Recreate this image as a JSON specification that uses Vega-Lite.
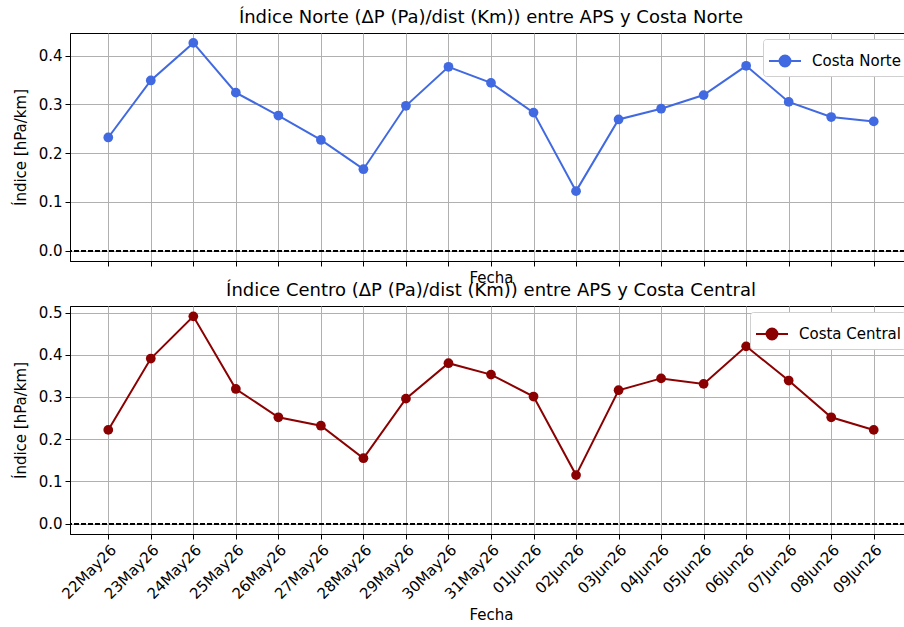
{
  "$schema": "https://vega.github.io/schema/vega-lite/v6.json",
  "background": "white",
  "padding": {"left": 12, "top": 8, "right": 0, "bottom": 4},
  "bounds": "flush",
  "config": {
    "font": "DejaVu Sans",
    "view": {"stroke": "black", "strokeWidth": 1},
    "axis": {
      "labelFontSize": 15, "titleFontSize": 15, "titleFontWeight": "normal",
      "labelColor": "black", "titleColor": "black",
      "domainColor": "black", "tickColor": "black", "tickSize": 5,
      "gridColor": "#b0b0b0", "gridWidth": 1, "gridOpacity": 1,
      "labelPadding": 3
    },
    "title": {"fontSize": 18, "fontWeight": "normal", "color": "black", "offset": 6},
    "legend": {"labelFontSize": 15, "labelColor": "black"}
  },
  "data": {"values": [
    {"fecha": "22May26", "serie": "Costa Norte", "indice": 0.232},
    {"fecha": "23May26", "serie": "Costa Norte", "indice": 0.349},
    {"fecha": "24May26", "serie": "Costa Norte", "indice": 0.426},
    {"fecha": "25May26", "serie": "Costa Norte", "indice": 0.324},
    {"fecha": "26May26", "serie": "Costa Norte", "indice": 0.277},
    {"fecha": "27May26", "serie": "Costa Norte", "indice": 0.227},
    {"fecha": "28May26", "serie": "Costa Norte", "indice": 0.167},
    {"fecha": "29May26", "serie": "Costa Norte", "indice": 0.297},
    {"fecha": "30May26", "serie": "Costa Norte", "indice": 0.377},
    {"fecha": "31May26", "serie": "Costa Norte", "indice": 0.344},
    {"fecha": "01Jun26", "serie": "Costa Norte", "indice": 0.283},
    {"fecha": "02Jun26", "serie": "Costa Norte", "indice": 0.122},
    {"fecha": "03Jun26", "serie": "Costa Norte", "indice": 0.269},
    {"fecha": "04Jun26", "serie": "Costa Norte", "indice": 0.291},
    {"fecha": "05Jun26", "serie": "Costa Norte", "indice": 0.319},
    {"fecha": "06Jun26", "serie": "Costa Norte", "indice": 0.379},
    {"fecha": "07Jun26", "serie": "Costa Norte", "indice": 0.305},
    {"fecha": "08Jun26", "serie": "Costa Norte", "indice": 0.274},
    {"fecha": "09Jun26", "serie": "Costa Norte", "indice": 0.265},
    {"fecha": "22May26", "serie": "Costa Central", "indice": 0.222},
    {"fecha": "23May26", "serie": "Costa Central", "indice": 0.391},
    {"fecha": "24May26", "serie": "Costa Central", "indice": 0.491},
    {"fecha": "25May26", "serie": "Costa Central", "indice": 0.319},
    {"fecha": "26May26", "serie": "Costa Central", "indice": 0.252},
    {"fecha": "27May26", "serie": "Costa Central", "indice": 0.232},
    {"fecha": "28May26", "serie": "Costa Central", "indice": 0.155},
    {"fecha": "29May26", "serie": "Costa Central", "indice": 0.296},
    {"fecha": "30May26", "serie": "Costa Central", "indice": 0.380},
    {"fecha": "31May26", "serie": "Costa Central", "indice": 0.353},
    {"fecha": "01Jun26", "serie": "Costa Central", "indice": 0.301},
    {"fecha": "02Jun26", "serie": "Costa Central", "indice": 0.115},
    {"fecha": "03Jun26", "serie": "Costa Central", "indice": 0.316},
    {"fecha": "04Jun26", "serie": "Costa Central", "indice": 0.344},
    {"fecha": "05Jun26", "serie": "Costa Central", "indice": 0.331},
    {"fecha": "06Jun26", "serie": "Costa Central", "indice": 0.420},
    {"fecha": "07Jun26", "serie": "Costa Central", "indice": 0.339},
    {"fecha": "08Jun26", "serie": "Costa Central", "indice": 0.252},
    {"fecha": "09Jun26", "serie": "Costa Central", "indice": 0.222}
  ]},
  "spacing": 45,
  "resolve": {"scale": {"color": "independent", "x": "independent", "y": "independent"}, "legend": {"color": "independent"}},
  "vconcat": [
    {
      "width": 842, "height": 228,
      "title": "Índice Norte (ΔP (Pa)/dist (Km)) entre APS y Costa Norte",
      "transform": [{"filter": "datum.serie === 'Costa Norte'"}],
      "layer": [
        {
          "mark": {"type": "rule", "color": "black", "strokeWidth": 1.1, "strokeDash": [5, 2]},
          "encoding": {"y": {"datum": 0}}
        },
        {
          "mark": {"type": "line", "strokeWidth": 2, "point": {"filled": true, "size": 95, "opacity": 1}},
          "encoding": {
            "x": {"field": "fecha", "type": "ordinal", "sort": null,
                  "scale": {"type": "point", "padding": 0.9},
                  "axis": {"labels": false, "title": "Fecha", "grid": true, "titlePadding": 4}},
            "y": {"field": "indice", "type": "quantitative",
                  "scale": {"domain": [-0.0213, 0.4463], "nice": false, "zero": false},
                  "axis": {"values": [0, 0.1, 0.2, 0.3, 0.4], "format": ".1f", "title": "Índice [hPa/km]", "grid": true, "titlePadding": 10}},
            "color": {"field": "serie", "type": "nominal",
                      "scale": {"domain": ["Costa Norte"], "range": ["#4169e1"]},
                      "legend": {"title": null, "orient": "top-right", "offset": 6,
                                 "fillColor": "white", "strokeColor": "#d0d0d0", "cornerRadius": 3, "padding": 5,
                                 "symbolType": "M-1,0H1M-0.34,0A0.34,0.34,0,1,1,0.34,0A0.34,0.34,0,1,1,-0.34,0Z",
                                 "symbolSize": 1024, "symbolStrokeWidth": 2, "symbolFillColor": "#4169e1", "symbolOpacity": 1, "labelOffset": 10}}
          }
        }
      ]
    },
    {
      "width": 842, "height": 228,
      "title": "Índice Centro (ΔP (Pa)/dist (Km)) entre APS y Costa Central",
      "transform": [{"filter": "datum.serie === 'Costa Central'"}],
      "layer": [
        {
          "mark": {"type": "rule", "color": "black", "strokeWidth": 1.1, "strokeDash": [5, 2]},
          "encoding": {"y": {"datum": 0}}
        },
        {
          "mark": {"type": "line", "strokeWidth": 2, "point": {"filled": true, "size": 95, "opacity": 1}},
          "encoding": {
            "x": {"field": "fecha", "type": "ordinal", "sort": null,
                  "scale": {"type": "point", "padding": 0.9},
                  "axis": {"labelAngle": -45, "labelAlign": "right", "labelBaseline": "top", "title": "Fecha", "grid": true, "titlePadding": 6}},
            "y": {"field": "indice", "type": "quantitative",
                  "scale": {"domain": [-0.0245, 0.5155], "nice": false, "zero": false},
                  "axis": {"values": [0, 0.1, 0.2, 0.3, 0.4, 0.5], "format": ".1f", "title": "Índice [hPa/km]", "grid": true, "titlePadding": 10}},
            "color": {"field": "serie", "type": "nominal",
                      "scale": {"domain": ["Costa Central"], "range": ["#8b0000"]},
                      "legend": {"title": null, "orient": "top-right", "offset": 6,
                                 "fillColor": "white", "strokeColor": "#d0d0d0", "cornerRadius": 3, "padding": 5,
                                 "symbolType": "M-1,0H1M-0.34,0A0.34,0.34,0,1,1,0.34,0A0.34,0.34,0,1,1,-0.34,0Z",
                                 "symbolSize": 1024, "symbolStrokeWidth": 2, "symbolFillColor": "#8b0000", "symbolOpacity": 1, "labelOffset": 10}}
          }
        }
      ]
    }
  ]
}
